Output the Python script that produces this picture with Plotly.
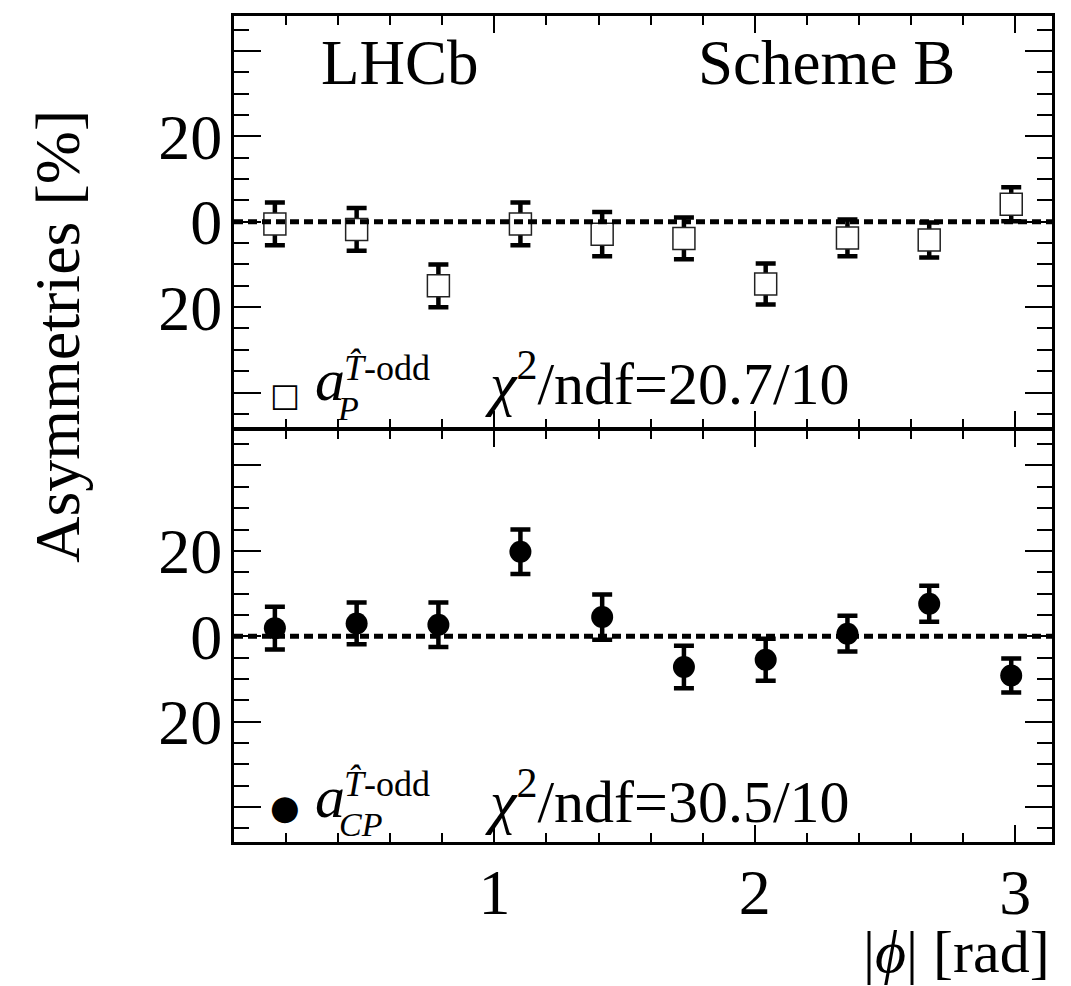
import plotly.graph_objects as go
from plotly.subplots import make_subplots

# ---------------- data ----------------
phi_centers = [0.157, 0.471, 0.785, 1.100, 1.414, 1.728, 2.042, 2.356, 2.670, 2.985]
a_P = [-0.5, -1.8, -15.0, -0.5, -2.9, -3.9, -14.6, -3.8, -4.3, 4.1]
a_P_err = [5.0, 5.0, 5.0, 5.0, 5.2, 4.9, 4.8, 4.3, 4.1, 4.0]
a_CP = [1.9, 3.0, 2.7, 19.8, 4.5, -7.2, -5.5, 0.6, 7.6, -9.2]
a_CP_err = [5.0, 4.9, 5.2, 5.2, 5.3, 5.0, 4.9, 4.2, 4.2, 4.0]

y_tickvals = [-40, -20, 0, 20, 40]
y_ticktext = ["", "20", "0", "20", ""]
x_tickvals = [1, 2, 3]
x_ticktext = ["1", "2", "3"]

chi2_P = "20.7/10"
chi2_CP = "30.5/10"

# ---------------- layout constants ----------------
OFF = 8  # default page body margin
W, H = 1063, 978
ML, MR, MT, MB = 226, 19, 5, 144
PW = W - ML - MR
PH = H - MT - MB
SERIF = "Liberation Serif, Times New Roman, serif"
YR = [-48.2, 48.2]
XR = [0, 3.14159]
HALF_LINE = 1.5 / PH


def px(xp):
    return (xp - OFF - ML) / PW


def py(yp):
    return (H - MB - (yp - OFF)) / PH


fig = make_subplots(rows=2, cols=1, shared_xaxes=True, vertical_spacing=0)

fig.add_trace(go.Scatter(
    x=phi_centers, y=a_P, mode="markers",
    marker=dict(symbol="square", size=22, color="white",
                line=dict(color="#222222", width=1.5)),
    error_y=dict(type="data", array=a_P_err, visible=True,
                 color="black", thickness=4.5, width=10),
    showlegend=False), row=1, col=1)

fig.add_trace(go.Scatter(
    x=phi_centers, y=a_CP, mode="markers",
    marker=dict(symbol="circle", size=22, color="black",
                line=dict(color="black", width=0)),
    error_y=dict(type="data", array=a_CP_err, visible=True,
                 color="black", thickness=4.5, width=10),
    showlegend=False), row=2, col=1)

# zero reference lines
for yref, xref in (("y", "x domain"), ("y2", "x2 domain")):
    fig.add_shape(type="line", xref=xref, yref=yref, x0=0, x1=1, y0=0, y1=0,
                  line=dict(color="black", width=5, dash="9px,5px"), layer="above")

axis_common = dict(showline=True, linecolor="black", linewidth=3, mirror="allticks",
                   ticks="inside", tickcolor="black", tickwidth=1.5,
                   showgrid=False, zeroline=False,
                   tickfont=dict(family=SERIF, size=64, color="black"))

for r in (1, 2):
    fig.update_yaxes(range=YR, tickmode="array", tickvals=y_tickvals, ticktext=y_ticktext,
                     ticklen=27, ticklabelstandoff=-4,
                     minor=dict(dtick=5, tick0=0, ticklen=15, ticks="inside",
                                tickcolor="black", tickwidth=1.5, showgrid=False),
                     row=r, col=1, **axis_common)
    fig.update_xaxes(range=XR, tickmode="array", tickvals=x_tickvals, ticktext=x_ticktext,
                     ticklen=17, ticklabelstandoff=-8,
                     minor=dict(dtick=0.2, tick0=0, ticklen=9, ticks="inside",
                                tickcolor="black", tickwidth=1.5, showgrid=False),
                     showticklabels=(r == 2),
                     row=r, col=1, **axis_common)

fig.update_yaxes(domain=[0.5 + HALF_LINE, 1.0], row=1, col=1)
fig.update_yaxes(domain=[0.0, 0.5 - HALF_LINE], row=2, col=1)

ann = []


def text(x, y, s, size, xanchor="left", yanchor="middle", angle=0, family=SERIF):
    ann.append(dict(x=px(x), y=py(y), xref="paper", yref="paper", text=s, showarrow=False,
                    xanchor=xanchor, yanchor=yanchor, textangle=angle,
                    font=dict(family=family, size=size, color="black")))


text(400, 60, "LHCb", 63, xanchor="center")
text(826, 60, "Scheme B", 63, xanchor="center")

# top legend row
text(285, 393, "□", 32, xanchor="center", family="DejaVu Sans")
text(313, 378, "<i>a</i>", 60)
text(342, 366, "<i>T\u0302</i>-odd", 36)
text(335, 407, "<i>P</i>", 34)
text(483, 378, "<i>χ</i><sup>2</sup>/ndf=" + chi2_P, 60)

# bottom legend row
text(285, 807, "●", 34, xanchor="center", family="DejaVu Sans")
text(313, 797, "<i>a</i>", 60)
text(342, 784, "<i>T\u0302</i>-odd", 36)
text(337, 824, "<i>CP</i>", 34)
text(483, 797, "<i>χ</i><sup>2</sup>/ndf=" + chi2_CP, 60)

# axis titles
text(1052, 952, "|<i>ϕ</i>| [rad]", 60, xanchor="right")
text(58, 335, "Asymmetries [%]", 64, xanchor="center", angle=-90)

fig.update_layout(width=W, height=H, margin=dict(l=ML, r=MR, t=MT, b=MB),
                  plot_bgcolor="white", paper_bgcolor="white",
                  annotations=ann, showlegend=False)

fig.write_html("out.html")
